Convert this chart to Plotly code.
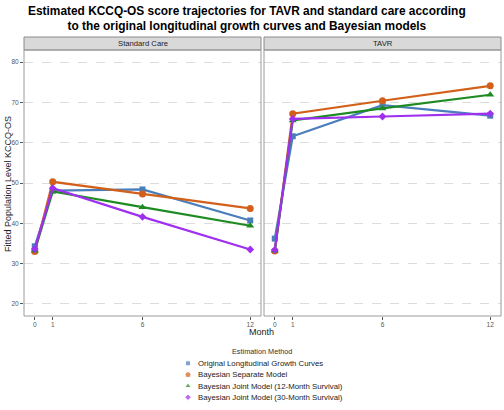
import plotly.graph_objects as go

months = [0, 1, 6, 12]
methods = ["Original Longitudinal Growth Curves", "Bayesian Separate Model",
           "Bayesian Joint Model (12-Month Survival)", "Bayesian Joint Model (30-Month Survival)"]
panels = ["Standard Care", "TAVR"]

sc_original = [34.3, 48.1, 48.4, 40.7]
sc_separate = [33.0, 50.3, 47.3, 43.7]
sc_joint12 = [33.2, 47.9, 44.0, 39.4]
sc_joint30 = [33.6, 48.7, 41.6, 33.5]

tavr_original = [36.2, 61.6, 69.3, 66.7]
tavr_separate = [33.1, 67.2, 70.4, 74.1]
tavr_joint12 = [33.2, 65.5, 68.5, 71.9]
tavr_joint30 = [33.4, 65.9, 66.5, 67.2]

y_ticks = [20, 30, 40, 50, 60, 70, 80]

colors = ["#4A7EBB", "#D2601A", "#1E8B22", "#A030F0"]
symbols = ["square", "circle", "triangle-up", "diamond"]
sizes = [6, 7, 7, 6]

data = {
    "Standard Care": [sc_original, sc_separate, sc_joint12, sc_joint30],
    "TAVR": [tavr_original, tavr_separate, tavr_joint12, tavr_joint30],
}

W, H = 504, 410
def px(x): return x / W
def py(y): return 1 - y / H

fig = go.Figure()
axes = [("x", "y"), ("x2", "y2")]
for pi, panel in enumerate(panels):
    xa, ya = axes[pi]
    for mi, m in enumerate(methods):
        fig.add_trace(go.Scatter(
            x=months, y=data[panel][mi], mode="lines+markers",
            line=dict(color=colors[mi], width=2.2),
            marker=dict(color=colors[mi], symbol=symbols[mi], size=sizes[mi]),
            xaxis=xa, yaxis=ya, showlegend=False, name=m))

# manual legend (marker-only keys, ggplot style) on a pixel overlay axis
leg_x = 188
leg_y = [363.3, 374.7, 386, 397.3]
fig.add_trace(go.Scatter(
    x=[leg_x] * len(methods), y=leg_y, mode="markers",
    marker=dict(color=colors, symbol=symbols, size=[5, 6, 6, 5]),
    xaxis="x3", yaxis="y3", showlegend=False, hoverinfo="skip"))

x_dom = [[px(24), px(261)], [px(264), px(501)]]
y_dom = [py(316), py(50)]

common_x = dict(range=[-0.6, 12.6], tickvals=months, ticktext=[str(m) for m in months],
                showgrid=False, zeroline=False, ticks="outside", ticklen=3,
                tickcolor="#555", tickfont=dict(size=6.5, color="#555"),
                ticklabelstandoff=-1, showline=False, mirror=False)
common_y = dict(range=[17, 83], tickvals=y_ticks, showgrid=True, gridcolor="#DCDCDC",
                griddash="dash", gridwidth=1, zeroline=False)

fig.update_layout(
    width=W, height=H, margin=dict(l=0, r=0, t=0, b=0),
    paper_bgcolor="white", plot_bgcolor="rgba(0,0,0,0)",
    font=dict(family="Liberation Sans, Arial, sans-serif", color="#222"),
    xaxis=dict(domain=x_dom[0], anchor="y", **common_x),
    yaxis=dict(domain=y_dom, anchor="x", ticks="outside", ticklen=3, tickcolor="#555",
               tickfont=dict(size=6.5, color="#555"), **common_y),
    xaxis2=dict(domain=x_dom[1], anchor="y2", **common_x),
    yaxis2=dict(domain=y_dom, anchor="x2", showticklabels=False, ticks="", **common_y),
    xaxis3=dict(domain=[0, 1], range=[0, W], visible=False, fixedrange=True),
    yaxis3=dict(domain=[0, 1], range=[H, 0], visible=False, fixedrange=True, anchor="x3"),
    showlegend=False,
)

shapes = []
for pi in range(2):
    x0, x1 = x_dom[pi]
    shapes.append(dict(type="rect", xref="paper", yref="paper", x0=x0, x1=x1,
                       y0=py(50), y1=py(37), fillcolor="#D9D9D9",
                       line=dict(color="#8C8C8C", width=1), layer="above"))
    shapes.append(dict(type="rect", xref="paper", yref="paper", x0=x0, x1=x1,
                       y0=y_dom[0], y1=y_dom[1], fillcolor="rgba(0,0,0,0)",
                       line=dict(color="#9A9A9A", width=1), layer="above"))
fig.update_layout(shapes=shapes)

annotations = []
annotations.append(dict(
    text="<b>Estimated KCCQ-OS score trajectories for TAVR and standard care according<br>to the original longitudinal growth curves and Bayesian models</b>",
    xref="paper", yref="paper", x=px(247), y=py(2), xanchor="center", yanchor="top",
    showarrow=False, font=dict(size=11.9, color="black")))
for pi, panel in enumerate(panels):
    x0, x1 = x_dom[pi]
    annotations.append(dict(text=panel, xref="paper", yref="paper", x=(x0 + x1) / 2,
                            y=(py(50) + py(37)) / 2, showarrow=False,
                            font=dict(size=7.7, color="#222"), xanchor="center", yanchor="middle"))
annotations.append(dict(text="Month", xref="paper", yref="paper", x=px(261), y=py(332),
                        showarrow=False, font=dict(size=9, color="#222"),
                        xanchor="center", yanchor="middle"))
annotations.append(dict(text="Fitted Population Level KCCQ-OS", xref="paper", yref="paper",
                        x=px(8), y=py(184), textangle=-90, showarrow=False,
                        font=dict(size=9, color="#222"), xanchor="center", yanchor="middle"))
annotations.append(dict(text="Estimation Method", xref="paper", yref="paper", x=px(262), y=py(351),
                        showarrow=False, font=dict(size=7.3, color="#333"),
                        xanchor="center", yanchor="middle"))
for mi, m in enumerate(methods):
    annotations.append(dict(text=m, xref="paper", yref="paper", x=px(196), y=py(leg_y[mi]),
                            showarrow=False, font=dict(size=7.8, color="#222"),
                            xanchor="left", yanchor="middle"))
fig.update_layout(annotations=annotations)

fig.write_html("out.html", config={"displayModeBar": False},
               post_script="document.body.style.margin='0';")
